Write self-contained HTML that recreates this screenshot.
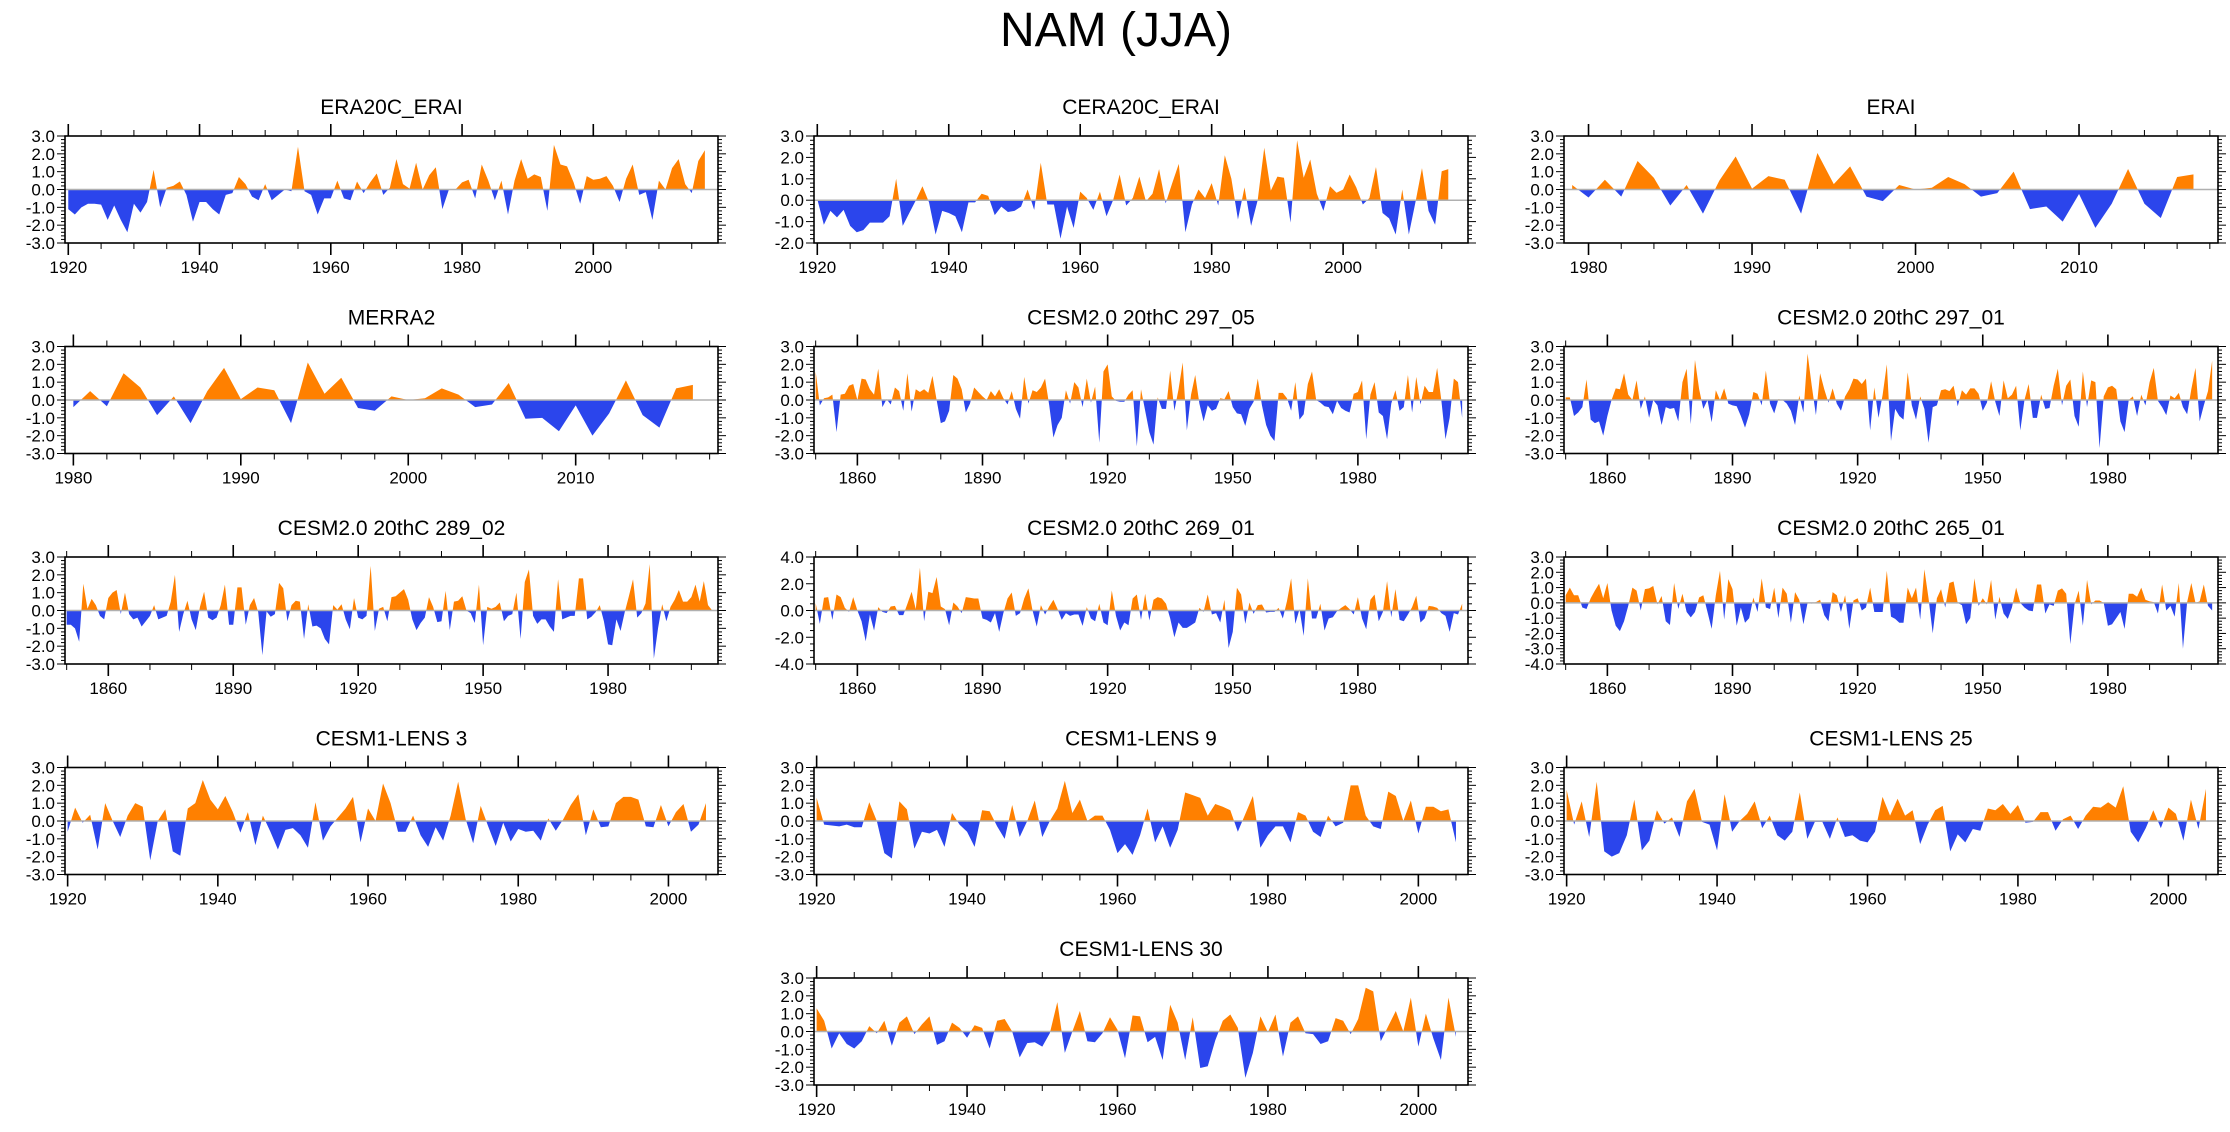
<!DOCTYPE html>
<html>
<head>
<meta charset="utf-8">
<style>
  html,body{margin:0;padding:0;background:#fff;}
  svg{display:block;font-family:"Liberation Sans",Arial,sans-serif;}
</style>
</head>
<body>
<svg id="fig" width="2230" height="1132" viewBox="0 0 2230 1132" xmlns="http://www.w3.org/2000/svg">
  <rect x="0" y="0" width="2230" height="1132" fill="#fff"/>
  <text x="1116" y="46" font-size="48" text-anchor="middle" fill="#000">NAM (JJA)</text>
</svg>
<script>
// ---- data ----
const era20cStart = 1920;
const era20cValues = [-1.1,-1.4,-1.0,-0.8,-0.8,-0.85,-1.7,-0.9,-1.7,-2.4,-0.8,-1.3,-0.7,1.1,-1.0,0.1,0.2,0.45,-0.3,-1.8,-0.7,-0.7,-1.1,-1.4,-0.3,-0.2,0.7,0.3,-0.4,-0.6,0.3,-0.6,-0.3,0.0,-0.1,2.4,-0.1,-0.3,-1.4,-0.5,-0.5,0.5,-0.5,-0.6,0.45,-0.2,0.4,0.9,-0.3,0.1,1.7,0.3,0.05,1.5,0.0,0.8,1.25,-1.1,0.0,0.0,0.4,0.55,-0.5,1.4,0.5,-0.6,0.5,-1.4,0.5,1.7,0.6,0.85,0.7,-1.2,2.5,1.4,1.3,0.4,-0.8,0.75,0.55,0.6,0.75,0.2,-0.7,0.6,1.4,-0.3,-0.15,-1.7,0.5,0.0,1.2,1.7,0.3,-0.2,1.6,2.2];
const cera20cStart = 1920;
const cera20cValues = [0.05,-1.15,-0.5,-0.8,-0.45,-1.2,-1.5,-1.4,-1.05,-1.05,-1.05,-0.75,1.0,-1.2,-0.6,0.0,0.65,-0.1,-1.6,-0.5,-0.6,-0.75,-1.5,-0.1,-0.1,0.3,0.2,-0.7,-0.3,-0.55,-0.5,-0.3,0.5,-0.45,1.75,-0.2,-0.2,-1.8,-0.3,-1.3,0.4,0.1,-0.45,0.4,-0.75,0.0,1.2,-0.25,0.1,1.1,-0.05,0.3,1.45,-0.15,0.8,1.7,-1.5,-0.2,0.5,0.1,0.8,-0.25,2.1,1.0,-0.9,0.6,-1.2,0.0,2.45,0.45,1.1,1.05,-1.05,2.8,1.05,1.9,0.3,-0.5,0.65,0.35,0.5,1.2,0.6,-0.2,0.1,1.55,-0.6,-0.85,-1.6,0.5,-1.6,-0.1,1.5,-0.5,-1.15,1.35,1.45];
const eraiStart = 1979;
const eraiValues = [0.25,-0.45,0.55,-0.4,1.6,0.65,-0.9,0.25,-1.35,0.5,1.85,0.05,0.75,0.55,-1.35,2.05,0.3,1.3,-0.4,-0.65,0.25,0.0,0.1,0.7,0.3,-0.4,-0.2,1.0,-1.1,-0.95,-1.8,-0.25,-2.15,-0.8,1.15,-0.8,-1.6,0.7,0.85];
const merra2Start = 1980;
const merra2Values = [-0.4,0.5,-0.35,1.5,0.7,-0.85,0.2,-1.3,0.5,1.8,0.05,0.7,0.55,-1.3,2.1,0.35,1.25,-0.45,-0.6,0.2,0.0,0.1,0.65,0.3,-0.4,-0.25,0.95,-1.05,-1.0,-1.75,-0.3,-2.0,-0.75,1.1,-0.85,-1.55,0.65,0.85];
const cesm29705Start = 1850;
const cesm29705Values = [1.6,-0.3,0.1,0.15,0.3,-1.8,0.3,0.35,0.8,0.9,0.0,1.2,1.15,0.6,0.3,1.75,-0.4,0.05,-0.25,0.7,0.5,-0.6,1.5,-0.65,0.6,0.45,0.6,0.4,1.35,0.0,-1.3,-1.2,-0.6,1.4,1.2,0.6,-0.7,-0.2,0.7,0.45,0.2,0.0,0.5,0.2,0.6,0.1,-0.25,0.5,-0.5,-1.05,1.3,-0.2,0.55,0.45,0.7,1.2,-0.3,-2.1,-1.4,-1.0,0.55,-0.2,1.0,0.7,-0.4,1.2,-0.15,0.75,-2.4,1.6,2.0,0.2,-0.05,-0.1,-0.1,0.3,0.55,-2.6,0.6,-0.6,-1.8,-2.5,0.15,-0.5,-0.5,1.65,-0.6,0.6,2.1,-1.7,0.3,1.4,-0.2,-1.2,-0.3,-0.6,-0.5,0.1,0.05,0.5,-0.4,-0.75,-0.8,-1.45,-0.5,-0.1,1.2,-0.3,-1.4,-2.0,-2.3,0.4,0.4,0.1,-0.6,1.0,-1.1,-0.8,0.9,1.6,0.0,-0.15,-0.35,-0.4,-0.8,-0.05,-0.45,-0.6,-0.7,0.35,0.45,1.1,-2.2,0.3,1.0,-0.7,-0.9,-2.2,-0.2,0.55,-0.6,-0.4,1.4,-0.7,1.3,-0.25,0.8,0.45,0.45,1.8,0.0,-2.2,-1.0,1.2,1.0,-1.0];
const cesm29701Start = 1850;
const cesm29701Values = [0.15,0.15,-0.9,-0.7,-0.4,1.15,-1.1,-1.3,-1.2,-2.0,-0.9,0.0,0.65,0.6,1.5,0.3,0.0,1.1,-0.5,0.2,-1.0,0.0,-0.3,-1.4,-0.4,-0.5,-0.45,-1.2,1.0,1.75,-1.35,2.25,0.6,-0.5,0.0,-1.25,0.55,0.0,0.65,-0.2,-0.3,-0.35,-0.9,-1.55,-0.8,0.45,0.35,-0.3,1.65,-0.2,-0.75,0.05,0.0,-0.2,-0.6,-1.4,0.25,-0.7,2.6,0.8,-0.85,1.5,0.6,-0.15,0.65,-0.2,-0.6,0.2,0.6,1.2,1.15,0.9,1.2,-1.7,0.7,-1.0,0.3,2.0,-2.3,-0.5,-0.9,-1.1,1.55,-0.3,-1.1,0.2,-0.5,-2.4,-0.4,-0.3,0.55,0.6,0.5,0.8,-0.35,0.55,0.3,0.65,0.65,0.35,-0.6,-0.15,1.05,-0.1,-0.9,1.1,0.1,0.3,0.8,-1.7,0.0,0.9,-1.0,-1.0,0.3,-0.5,-0.45,0.8,1.75,-0.3,0.8,1.15,-0.9,-1.5,1.6,-0.4,1.1,1.0,-2.7,0.2,0.7,0.8,0.6,-1.2,-1.8,0.0,0.2,-0.9,0.3,-0.3,1.0,1.8,-0.05,-0.4,-0.85,0.25,0.1,0.4,-0.4,-0.8,0.6,1.8,-1.2,-0.3,0.5,2.2];
const cesm28902Start = 1850;
const cesm28902Values = [-0.8,-0.8,-1.0,-1.75,1.5,0.1,0.65,0.3,-0.3,-0.5,0.7,1.0,1.15,-0.2,1.0,-0.2,-0.5,-0.4,-0.9,-0.6,-0.3,0.3,-0.5,-0.4,-0.3,0.5,2.0,-1.2,-0.2,0.55,-0.5,-1.1,0.2,1.05,-0.4,-0.55,-0.4,0.3,1.45,-0.8,-0.8,1.3,1.3,-0.8,0.3,0.7,-0.1,-2.5,-0.05,-0.35,-0.2,1.55,1.25,-0.6,0.3,0.55,0.5,-1.6,0.35,-0.9,-0.85,-1.0,-1.6,-1.9,0.3,0.05,0.35,-0.5,-1.05,0.7,-0.4,-0.5,-0.3,2.5,-1.15,0.1,0.2,-0.6,0.75,0.8,1.0,1.2,0.6,-0.5,-1.1,-0.7,-0.4,0.75,0.2,-0.65,-0.6,1.1,-1.1,0.5,0.55,0.8,0.0,-0.15,-0.7,1.45,-1.95,0.2,0.1,0.2,0.45,-0.6,-0.3,-0.2,1.0,-1.6,1.6,2.3,-0.3,-0.75,-0.5,-0.5,-0.9,-1.2,1.75,-0.5,-0.4,-0.3,-0.3,1.8,1.8,-0.5,-0.35,-0.1,0.3,-0.6,-1.9,-1.95,-0.5,-1.15,-0.1,0.8,1.75,-0.4,-0.15,0.4,2.6,-2.7,-1.0,0.35,-0.6,0.2,0.6,1.15,0.5,0.5,0.75,1.45,0.5,1.65,0.3,0.0];
const cesm26901Start = 1850;
const cesm26901Values = [0.55,-1.0,0.95,1.0,-0.7,1.2,1.0,0.2,-0.1,1.0,0.0,-0.8,-2.3,-0.3,-1.5,0.25,-0.1,-0.2,0.3,0.35,-0.35,-0.35,0.5,1.4,0.1,3.2,-0.8,1.4,1.3,2.5,0.3,0.1,-1.1,0.6,0.3,-0.2,1.0,0.95,0.9,0.9,-0.6,-0.7,-0.9,-0.2,-1.6,-0.2,0.9,1.35,-0.4,-0.2,0.9,1.65,0.0,-1.2,0.4,-0.3,0.3,0.8,0.1,-0.7,-0.2,-0.4,-0.3,-0.3,-1.15,0.25,-0.6,-0.8,0.5,-0.9,-1.1,1.5,-0.4,-1.5,-0.9,-1.1,0.9,1.2,-0.7,1.25,-0.75,0.8,1.0,0.9,0.5,-0.6,-2.0,-0.9,-1.3,-1.3,-1.1,-0.9,0.2,-0.1,1.2,-0.3,-0.2,-0.9,0.8,-2.8,-1.6,1.7,1.2,-1.0,0.6,-0.25,0.4,0.45,-0.15,-0.1,-0.1,0.2,-0.6,0.7,2.4,-1.0,0.1,-1.9,2.4,-0.6,-0.6,0.5,-1.5,-0.6,-0.5,-0.05,0.2,0.4,0.1,-0.3,1.0,-0.6,-1.4,0.8,1.2,-0.8,-0.1,2.2,-0.5,1.6,-0.7,-0.8,-0.3,0.25,1.1,-0.9,-0.6,0.35,0.3,0.2,-0.2,-0.4,-1.6,-0.2,-0.3,0.5];
const cesm26501Start = 1850;
const cesm26501Values = [0.5,1.0,0.5,0.5,-0.3,-0.4,0.3,0.8,1.25,0.3,1.3,-0.5,-1.5,-1.85,-1.2,-0.2,1.0,0.8,-0.5,0.9,0.95,1.1,-0.1,0.45,-1.2,-1.45,1.3,-0.4,0.6,-0.6,-0.95,-0.6,0.35,0.5,-0.6,-1.7,0.5,2.1,-1.1,1.55,0.9,-1.5,-0.3,-1.3,-1.0,0.35,-0.6,1.6,-0.3,-0.4,1.0,-1.0,1.0,0.6,-1.3,0.7,0.2,-1.4,0.0,-0.05,0.05,0.2,-0.8,-1.2,0.7,0.5,-0.6,0.5,-1.7,0.15,0.3,-0.5,-0.3,1.0,-0.6,-0.6,-0.6,2.1,-0.9,-1.05,-1.3,-1.3,1.0,0.3,1.0,-1.1,2.2,0.3,-2.0,0.3,0.9,-0.3,1.3,1.4,0.0,-0.15,-1.4,-1.0,1.6,-0.2,0.3,-0.1,1.5,-1.1,0.4,-0.7,-1.05,-0.3,1.0,0.0,-0.3,-0.5,-0.55,1.2,1.2,-0.7,-0.1,-0.2,0.8,0.95,0.6,-2.7,-0.1,0.8,-1.5,1.5,-0.1,0.15,0.15,0.0,-1.5,-1.4,-1.0,-0.6,-1.7,0.6,0.6,0.4,1.0,0.2,0.1,0.05,-0.7,1.2,-0.5,-0.2,-0.9,1.3,-3.0,0.05,1.3,0.0,0.1,1.2,-0.2,-0.5];
const lens3Start = 1920;
const lens3Values = [-0.6,0.75,-0.1,0.35,-1.6,1.0,0.0,-0.9,0.3,1.0,0.8,-2.2,0.0,0.65,-1.7,-1.95,0.7,1.0,2.3,1.2,0.65,1.4,0.5,-0.65,0.5,-1.35,0.3,-0.6,-1.6,-0.5,-0.4,-0.8,-1.5,1.05,-1.1,-0.3,0.2,0.7,1.35,-1.2,0.7,0.0,2.1,1.0,-0.6,-0.6,0.3,-0.8,-1.45,-0.35,-1.1,0.3,2.2,0.1,-1.25,0.85,-0.3,-1.4,-0.1,-1.15,-0.45,-0.6,-0.55,-1.1,0.15,-0.55,0.1,0.9,1.5,-0.8,0.65,-0.35,-0.3,1.0,1.35,1.35,1.2,-0.3,-0.35,0.9,-0.3,0.5,0.95,-0.6,-0.2,1.0];
const lens9Start = 1920;
const lens9Values = [1.3,-0.2,-0.25,-0.3,-0.2,-0.35,-0.35,1.05,0.0,-1.8,-2.1,1.1,0.65,-1.55,-0.6,-0.7,-0.5,-1.45,0.45,-0.2,-0.6,-1.45,0.6,0.55,-0.3,-1.0,0.9,-0.9,0.0,1.15,-0.9,0.0,0.7,2.25,0.45,1.2,0.0,0.3,0.3,-0.5,-1.8,-1.3,-1.9,-0.8,0.7,-1.2,-0.3,-1.5,-0.5,1.6,1.45,1.3,0.3,0.95,0.8,0.6,-0.6,0.4,1.4,-1.5,-0.8,-0.3,-0.3,-1.2,0.5,0.3,-0.6,-0.9,0.3,-0.3,-0.1,2.0,2.0,0.3,-0.3,-0.45,1.65,1.4,0.0,1.15,-0.7,0.8,0.8,0.55,0.65,-1.2];
const lens25Start = 1920;
const lens25Values = [1.75,-0.2,1.1,-0.9,2.2,-1.7,-2.0,-1.8,-0.8,1.2,-1.65,-1.1,0.6,-0.15,0.2,-0.9,1.1,1.8,-0.05,-0.2,-1.65,1.5,-0.6,0.0,0.4,1.1,-0.4,0.3,-0.8,-1.1,-0.6,1.6,-1.0,-0.05,-0.05,-1.0,0.2,-0.9,-0.8,-1.1,-1.2,-0.6,1.35,0.3,1.25,0.3,0.6,-1.3,-0.2,0.6,0.85,-1.7,-0.75,-1.2,-0.45,-0.55,0.7,0.6,0.95,0.4,0.9,-0.1,-0.05,0.5,0.5,-0.55,0.1,0.3,-0.45,0.3,0.8,0.75,1.05,0.75,1.95,-0.6,-1.2,-0.4,0.6,-0.4,0.75,0.4,-1.1,1.2,-0.45,1.8];
const lens30Start = 1920;
const lens30Values = [1.3,0.6,-0.95,-0.1,-0.7,-0.95,-0.55,0.3,-0.1,0.6,-0.8,0.5,0.85,-0.15,0.4,0.85,-0.75,-0.55,0.5,0.2,-0.35,0.35,0.2,-0.95,0.6,0.7,0.0,-1.45,-0.65,-0.6,-0.85,-0.1,1.65,-1.2,0.0,1.15,-0.55,-0.6,-0.1,0.8,0.1,-1.5,0.9,0.85,-0.6,-0.3,-1.6,1.5,0.5,-1.6,0.8,-2.05,-1.95,-0.5,0.6,0.95,0.2,-2.6,-1.2,0.85,-0.05,0.95,-1.4,0.5,0.85,-0.1,-0.15,-0.7,-0.55,0.75,0.6,-0.15,0.7,2.45,2.25,-0.55,0.3,1.15,0.0,1.9,-0.85,1.0,-0.4,-1.6,1.9,-0.3];

// y tick label arrays
const yTicks3 = [3.0,2.0,1.0,0.0,-1.0,-2.0,-3.0];
const yTicksCera = [3.0,2.0,1.0,0.0,-1.0,-2.0];
const yTicks4 = [4.0,2.0,0.0,-2.0,-4.0];
const yTicks34 = [3.0,2.0,1.0,0.0,-1.0,-2.0,-3.0,-4.0];
// x tick label arrays
const xTicksLong = [1920,1940,1960,1980,2000];
const xTicksShort = [1980,1990,2000,2010];
const xTicksCesm = [1860,1890,1920,1950,1980];
const xTicksLens = [1920,1940,1960,1980,2000];

// ---- layout ----
const cols=[{l:65,r:718},{l:814,r:1468},{l:1564,r:2218}];
const rowTops=[136,346.5,557,767.5,978];
const BOXH=107;
const ORANGE="#ff8000", BLUE="#2b45ec";

const panels=[
 {name:"era20c-erai",title:"ERA20C_ERAI",vals:era20cValues,start:era20cStart,xmin:1919.5,xmax:2019,ymin:-3,ymax:3,yt:yTicks3,ymin2:0.2,xt:xTicksLong,xminor:5,col:0,row:0},
 {name:"cera20c-erai",title:"CERA20C_ERAI",vals:cera20cValues,start:cera20cStart,xmin:1919.5,xmax:2019,ymin:-2,ymax:3,yt:yTicksCera,ymin2:0.2,xt:xTicksLong,xminor:5,col:1,row:0},
 {name:"erai",title:"ERAI",vals:eraiValues,start:eraiStart,xmin:1978.5,xmax:2018.5,ymin:-3,ymax:3,yt:yTicks3,ymin2:0.2,xt:xTicksShort,xminor:2,col:2,row:0},
 {name:"merra2",title:"MERRA2",vals:merra2Values,start:merra2Start,xmin:1979.5,xmax:2018.5,ymin:-3,ymax:3,yt:yTicks3,ymin2:0.2,xt:xTicksShort,xminor:2,col:0,row:1},
 {name:"cesm2-297-05",title:"CESM2.0 20thC 297_05",vals:cesm29705Values,start:cesm29705Start,xmin:1849.6,xmax:2006.4,ymin:-3,ymax:3,yt:yTicks3,ymin2:0.2,xt:xTicksCesm,xminor:10,col:1,row:1},
 {name:"cesm2-297-01",title:"CESM2.0 20thC 297_01",vals:cesm29701Values,start:cesm29701Start,xmin:1849.6,xmax:2006.4,ymin:-3,ymax:3,yt:yTicks3,ymin2:0.2,xt:xTicksCesm,xminor:10,col:2,row:1},
 {name:"cesm2-289-02",title:"CESM2.0 20thC 289_02",vals:cesm28902Values,start:cesm28902Start,xmin:1849.6,xmax:2006.4,ymin:-3,ymax:3,yt:yTicks3,ymin2:0.2,xt:xTicksCesm,xminor:10,col:0,row:2},
 {name:"cesm2-269-01",title:"CESM2.0 20thC 269_01",vals:cesm26901Values,start:cesm26901Start,xmin:1849.6,xmax:2006.4,ymin:-4,ymax:4,yt:yTicks4,ymin2:0.5,xt:xTicksCesm,xminor:10,col:1,row:2},
 {name:"cesm2-265-01",title:"CESM2.0 20thC 265_01",vals:cesm26501Values,start:cesm26501Start,xmin:1849.6,xmax:2006.4,ymin:-4,ymax:3,yt:yTicks34,ymin2:0.2,xt:xTicksCesm,xminor:10,col:2,row:2},
 {name:"cesm1-lens-3",title:"CESM1-LENS 3",vals:lens3Values,start:lens3Start,xmin:1919.65,xmax:2006.6,ymin:-3,ymax:3,yt:yTicks3,ymin2:0.2,xt:xTicksLens,xminor:5,col:0,row:3},
 {name:"cesm1-lens-9",title:"CESM1-LENS 9",vals:lens9Values,start:lens9Start,xmin:1919.65,xmax:2006.6,ymin:-3,ymax:3,yt:yTicks3,ymin2:0.2,xt:xTicksLens,xminor:5,col:1,row:3},
 {name:"cesm1-lens-25",title:"CESM1-LENS 25",vals:lens25Values,start:lens25Start,xmin:1919.65,xmax:2006.6,ymin:-3,ymax:3,yt:yTicks3,ymin2:0.2,xt:xTicksLens,xminor:5,col:2,row:3},
 {name:"cesm1-lens-30",title:"CESM1-LENS 30",vals:lens30Values,start:lens30Start,xmin:1919.65,xmax:2006.6,ymin:-3,ymax:3,yt:yTicks3,ymin2:0.2,xt:xTicksLens,xminor:5,col:1,row:4}
];

const NS="http://www.w3.org/2000/svg";
const svg=document.getElementById("fig");
function mk(tag,attrs,parent){const e=document.createElementNS(NS,tag);for(const k in attrs)e.setAttribute(k,attrs[k]);(parent||svg).appendChild(e);return e;}

panels.forEach((p,pi)=>{
  const L=cols[p.col].l, R=cols[p.col].r, T=rowTops[p.row], B=T+BOXH;
  const xs=v=>L+(v-p.xmin)/(p.xmax-p.xmin)*(R-L);
  const ys=v=>B-(v-p.ymin)/(p.ymax-p.ymin)*(B-T);
  const g=mk("g",{});
  
  

  const t=mk("text",{x:(L+R)/2,y:T-22,"font-size":21,"text-anchor":"middle",fill:"#000"},g);
  t.textContent=p.title;
  
  

  const y0=ys(0);
  const cidA="ca"+pi, cidB="cb"+pi;
  const defs=mk("defs",{},g);
  const cA=mk("clipPath",{id:cidA},defs); mk("rect",{x:L,y:T,width:R-L,height:y0-T},cA);
  const cB=mk("clipPath",{id:cidB},defs); mk("rect",{x:L,y:y0,width:R-L,height:B-y0},cB);
  let d="M"+xs(p.start)+","+y0;
  p.vals.forEach((v,i)=>{d+=" L"+xs(p.start+i).toFixed(2)+","+ys(v).toFixed(2);});
  d+=" L"+xs(p.start+p.vals.length-1)+","+y0+" Z";
  const pos=mk("path",{d:d,fill:ORANGE,"clip-path":"url(#"+cidA+")"},g);
  
  
  const neg=mk("path",{d:d,fill:BLUE,"clip-path":"url(#"+cidB+")"},g);
  
  
  const zl=mk("line",{x1:L,x2:R,y1:y0,y2:y0,stroke:"#b0b0b0","stroke-width":1.5},g);
  
  

  // x ticks
  const first=Math.ceil(p.xmin/p.xminor)*p.xminor;
  for(let yr=first; yr<=p.xmax; yr+=p.xminor){
    const x=xs(yr); const major=p.xt.indexOf(yr)>=0 || (p.xminor===10 && (yr-1860)%30===0) || (p.xminor===5 && yr%20===0) || (p.xminor===2 && yr%10===0);
    const len=major?12:6;
    mk("line",{x1:x,x2:x,y1:T,y2:T-len,stroke:"#000","stroke-width":major?1.6:1},g);
    mk("line",{x1:x,x2:x,y1:B,y2:B+len,stroke:"#000","stroke-width":major?1.6:1},g);
  }
  p.xt.forEach(v=>{
    const lab=mk("text",{x:xs(v),y:B+30,"font-size":17,"text-anchor":"middle",fill:"#000"},g);
    lab.textContent=String(v);
    
    
  });
  // y ticks
  const n=Math.round((p.ymax-p.ymin)/p.ymin2);
  for(let k=0;k<=n;k++){
    const v=p.ymin+k*p.ymin2; const y=ys(v);
    const major=p.yt.some(t=>Math.abs(t-v)<1e-6);
    const len=major?8:4;
    mk("line",{x1:L,x2:L-len,y1:y,y2:y,stroke:"#000","stroke-width":1},g);
    mk("line",{x1:R,x2:R+len,y1:y,y2:y,stroke:"#000","stroke-width":1},g);
  }
  p.yt.forEach(v=>{
    const lab=mk("text",{x:L-10,y:ys(v)+6,"font-size":17,"text-anchor":"end",fill:"#000"},g);
    lab.textContent=v.toFixed(1);
    
    
  });
  const box=mk("rect",{x:L,y:T,width:R-L,height:B-T,fill:"none",stroke:"#000","stroke-width":1.6},g);
  
  
});
</script>
</body>
</html>
